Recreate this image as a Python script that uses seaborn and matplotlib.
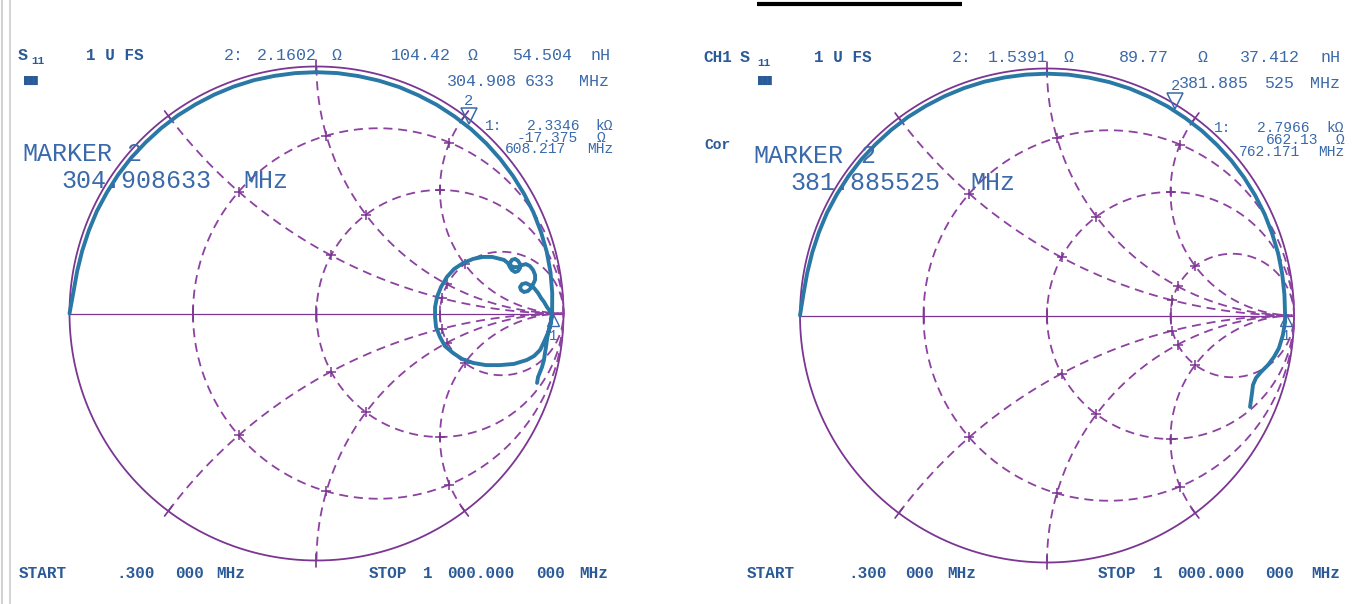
import numpy as np
import pandas as pd
import matplotlib
matplotlib.use("Agg")
import matplotlib.pyplot as plt
from matplotlib.transforms import offset_copy
import seaborn as sns

sns.set_theme(style="white")
plt.rcParams["font.family"] = ["Liberation Mono", "DejaVu Sans Mono", "DejaVu Sans"]

W, H = 1365, 604
PURPLE = "#8d41a0"
PURPLE_DK = "#7b3592"
TRACE = "#2a78a5"
TEXT = "#3a6aaa"
TEXT_DK = "#2b5a98"

Z0 = 50.0

# Smith chart graticule: constant-resistance circles and constant-reactance arcs
R_CIRCLES = [1 / 3, 1.0, 3.0]
X_ARCS = [0.5, 1.0, 2.0]

# Reflection coefficient along the rim: angle (deg) and magnitude
RIM_DEG = [180, 175, 170, 165, 160, 155, 150, 145, 140, 135, 130, 125, 120,
           115, 110, 105, 100, 95, 90, 85, 80, 75, 70, 65, 60, 55, 50, 45,
           40, 35, 30, 25, 20, 15, 10, 5, 0]
LEFT_RIM_MAG = [1.000, 0.988, 0.984, 0.982, 0.981, 0.981, 0.980, 0.980, 0.980,
                0.979, 0.979, 0.979, 0.978, 0.978, 0.978, 0.978, 0.977, 0.977,
                0.977, 0.977, 0.976, 0.976, 0.976, 0.975, 0.975, 0.974, 0.974,
                0.973, 0.972, 0.971, 0.970, 0.969, 0.967, 0.965, 0.962, 0.958,
                0.954]
RIGHT_RIM_MAG = [1.000, 0.990, 0.986, 0.984, 0.983, 0.983, 0.982, 0.982, 0.982,
                 0.981, 0.981, 0.981, 0.980, 0.980, 0.980, 0.980, 0.979, 0.979,
                 0.979, 0.979, 0.978, 0.978, 0.978, 0.977, 0.977, 0.976, 0.976,
                 0.975, 0.975, 0.974, 0.973, 0.972, 0.970, 0.969, 0.967, 0.965,
                 0.964]

# Left display: resonance loop, its two curls, and the tail into the capacitive half
LEFT_LOOP_RE = [0.949, 0.937, 0.921, 0.905, 0.881, 0.852, 0.800, 0.743, 0.686,
                0.634, 0.589, 0.553, 0.520, 0.500, 0.484, 0.480, 0.480, 0.488,
                0.504, 0.528, 0.557, 0.593, 0.634, 0.674, 0.711, 0.743,
                0.759, 0.775, 0.783, 0.791, 0.804, 0.816, 0.824, 0.824, 0.816,
                0.804, 0.791, 0.783, 0.787, 0.800, 0.816, 0.832, 0.848, 0.864,
                0.877, 0.885, 0.885, 0.877,
                0.868, 0.856, 0.840, 0.828, 0.824, 0.832, 0.848, 0.864, 0.881,
                0.897, 0.909, 0.921, 0.933, 0.945, 0.953,
                0.949, 0.945, 0.937, 0.933, 0.929, 0.925, 0.921, 0.913, 0.905,
                0.897, 0.893]
LEFT_LOOP_IM = [-0.038, -0.079, -0.115, -0.148, -0.172, -0.188, -0.204, -0.209,
                -0.209, -0.200, -0.184, -0.160, -0.132, -0.095, -0.055, -0.014,
                0.026, 0.067, 0.107, 0.148, 0.180, 0.204, 0.221, 0.229, 0.229,
                0.221,
                0.217, 0.204, 0.188, 0.176, 0.168, 0.172, 0.184, 0.200, 0.213,
                0.221, 0.217, 0.204, 0.192, 0.188, 0.188, 0.196, 0.200, 0.192,
                0.176, 0.156, 0.136, 0.119,
                0.103, 0.091, 0.087, 0.095, 0.107, 0.119, 0.123, 0.115, 0.103,
                0.083, 0.063, 0.047, 0.026, 0.010, -0.006,
                -0.030, -0.055, -0.083, -0.107, -0.136, -0.160, -0.188, -0.217,
                -0.237, -0.257, -0.281]

# Right display (corrected): tail below the open-circuit point
RIGHT_TAIL_RE = [0.964, 0.955, 0.939, 0.919, 0.895, 0.866, 0.846, 0.834, 0.830,
                 0.826, 0.822]
RIGHT_TAIL_IM = [-0.026, -0.079, -0.132, -0.168, -0.200, -0.229, -0.253, -0.281,
                 -0.314, -0.342, -0.370]

# Marker readouts (R, X in ohms)
LEFT_M1 = (2334.6, -17.375)
LEFT_M2 = (2.1602, 104.42)
RIGHT_M1 = (2796.6, 662.13)
RIGHT_M2 = (1.5391, 89.77)


def gamma(z):
    return (z - 1) / (z + 1)


fig = plt.figure(figsize=(W / 100, H / 100), dpi=100)
fig.patch.set_facecolor("white")


def smith_axes(cx, cy, radius):
    pad = 1.06
    half = radius * pad
    ax = fig.add_axes([(cx - half) / W, (H - cy - half) / H, 2 * half / W, 2 * half / H])
    ax.set_xlim(-pad, pad)
    ax.set_ylim(-pad, pad)
    ax.axis("off")
    return ax


def draw_grid(ax):
    t = np.linspace(0, 2 * np.pi, 721)
    ax.plot(np.cos(t), np.sin(t), color=PURPLE_DK, lw=1.3, zorder=2)
    ax.plot([-1, 1], [0, 0], color=PURPLE_DK, lw=0.9, zorder=2)
    dash = (0, (5.0, 3.2))
    tc = np.linspace(np.pi, 3 * np.pi, 721)
    for r in R_CIRCLES:
        c, rad = r / (1 + r), 1 / (1 + r)
        ax.plot(c + rad * np.cos(tc), rad * np.sin(tc), color=PURPLE, lw=1.3,
                ls=dash, zorder=2)
        g = (r - 1) / (r + 1)
        ax.plot([g, g], [-0.03, 0.03], color=PURPLE_DK, lw=1.1, zorder=2)
    rr = np.concatenate([[0.0], np.geomspace(1e-3, 300, 900)])
    for x in X_ARCS:
        for s in (1, -1):
            g = gamma(rr + 1j * s * x)
            ax.plot(g.real, g.imag, color=PURPLE, lw=1.3, ls=dash, zorder=2)
            g0 = g[0]
            ax.plot([0.975 * g0.real, 1.025 * g0.real],
                    [0.975 * g0.imag, 1.025 * g0.imag],
                    color=PURPLE_DK, lw=1.2, zorder=2)
    cross = np.array([gamma(r + 1j * s * x) for r in R_CIRCLES
                      for x in X_ARCS for s in (1, -1)])
    ax.plot(cross.real, cross.imag, ls="none", marker="+", ms=7, mew=1.1,
            color=PURPLE_DK, zorder=2)


def draw_trace(ax, re, im):
    df = pd.DataFrame({"re": re, "im": im})
    sns.lineplot(data=df, x="re", y="im", sort=False, estimator=None, ax=ax,
                 color=TRACE, lw=2.8, zorder=5, solid_joinstyle="round",
                 solid_capstyle="round")
    ax.set_xlim(-1.06, 1.06)
    ax.set_ylim(-1.06, 1.06)
    ax.axis("off")


def draw_markers(ax, m1, m2):
    g1 = gamma(complex(*m1) / Z0)
    g2 = gamma(complex(*m2) / Z0)
    up = offset_copy(ax.transData, fig=fig, x=0, y=8, units="dots")
    ax.plot([g2.real], [g2.imag], marker="v", ms=11, mfc="none", mec=TEXT,
            mew=1.1, transform=up, zorder=6)
    lab2 = offset_copy(ax.transData, fig=fig, x=0, y=23, units="dots")
    ax.text(g2.real, g2.imag, "2", transform=lab2, ha="center", va="center",
            fontsize=11, color=TEXT, zorder=6)
    dn = offset_copy(ax.transData, fig=fig, x=0, y=-6, units="dots")
    ax.plot([g1.real], [g1.imag], marker="^", ms=8, mfc="none", mec=TEXT,
            mew=1.0, transform=dn, zorder=6)
    lab1 = offset_copy(ax.transData, fig=fig, x=0, y=-22, units="dots")
    ax.text(g1.real, g1.imag, "1", transform=lab1, ha="center", va="center",
            fontsize=10, color=TEXT, zorder=6)


def polar_points(deg, mag):
    a = np.radians(np.asarray(deg, dtype=float))
    m = np.asarray(mag, dtype=float)
    return m * np.cos(a), m * np.sin(a)


# Left chart
axL = smith_axes(316.5, 313.5, 247)
draw_grid(axL)
lx, ly = polar_points(RIM_DEG, LEFT_RIM_MAG)
draw_trace(axL, np.concatenate([lx, LEFT_LOOP_RE]), np.concatenate([ly, LEFT_LOOP_IM]))
draw_markers(axL, LEFT_M1, LEFT_M2)

# Right chart
axR = smith_axes(1047, 315.5, 247)
draw_grid(axR)
rx, ry = polar_points(RIM_DEG, RIGHT_RIM_MAG)
draw_trace(axR, np.concatenate([rx, RIGHT_TAIL_RE]), np.concatenate([ry, RIGHT_TAIL_IM]))
draw_markers(axR, RIGHT_M1, RIGHT_M2)

# Annotation layer in pixel coordinates
bg = fig.add_axes([0, 0, 1, 1], zorder=10)
bg.set_xlim(0, W)
bg.set_ylim(H, 0)
bg.axis("off")
bg.patch.set_alpha(0)

bg.plot([1.5, 1.5], [0, H], color="#d2d2d2", lw=1.5)
bg.plot([9.5, 9.5], [0, H], color="#d6d6d6", lw=1.5)
bg.plot([757, 962], [3.5, 3.5], color="black", lw=3.0, solid_capstyle="butt")

SMALL = 12
READ = 10.5
BIG = 18
FOOT = 11.5


def txt(x, y, s, size=SMALL, weight="normal", color=TEXT, ha="left"):
    bg.text(x, y, s, fontsize=size, fontweight=weight, color=color,
            ha=ha, va="center")


# Left header
txt(18, 55, "S", 12, "bold", TEXT_DK)
txt(31, 61, "11", 8, "bold", TEXT_DK)
txt(86, 55, "1 U FS", 11.5, "bold", TEXT_DK)
txt(24, 80, "███", 5.5, "normal", TEXT_DK)
for x, s in [(224, "2:"), (257, "2.1602"), (332, "Ω"), (391, "104.42"),
             (468, "Ω"), (512, "54.504"), (591, "nH")]:
    txt(x, 55, s)
for x, s in [(447, "304.908"), (525, "633"), (579, "MHz")]:
    txt(x, 82, s)
txt(485, 126, "1:", READ)
for x, y, s in [(580, 126, "2.3346"), (613, 126, "kΩ"),
                (578, 137.5, "-17.375"), (605, 137.5, "Ω"),
                (566, 149, "608.217"), (613, 149, "MHz")]:
    txt(x, y, s, READ, ha="right")
txt(22, 154, "MARKER", BIG)
txt(126, 154, "2", BIG)
txt(61, 181, "304.908633", BIG)
txt(243, 181, "MHz", BIG)

# Right header
txt(703, 57, "CH1", 11.5, "bold", TEXT_DK)
txt(740, 57, "S", 12, "bold", TEXT_DK)
txt(757, 63, "11", 8, "bold", TEXT_DK)
txt(814, 57, "1 U FS", 11.5, "bold", TEXT_DK)
txt(758, 80, "███", 5.5, "normal", TEXT_DK)
txt(704, 145, "Cor", 10.5, "bold", TEXT_DK)
for x, s in [(952, "2:"), (988, "1.5391"), (1063, "Ω"), (1119, "89.77"),
             (1197, "Ω"), (1240, "37.412"), (1321, "nH")]:
    txt(x, 57, s)
for x, s in [(1179, "381.885"), (1264, "525"), (1310, "MHz")]:
    txt(x, 83, s)
txt(1214, 128, "1:", READ)
for x, y, s in [(1309, 128, "2.7966"), (1344, 128, "kΩ"),
                (1318, 140, "662.13"), (1344, 140, "Ω"),
                (1300, 152, "762.171"), (1344, 152, "MHz")]:
    txt(x, y, s, READ, ha="right")
txt(753, 156, "MARKER", BIG)
txt(860, 156, "2", BIG)
txt(790, 183, "381.885525", BIG)
txt(970, 183, "MHz", BIG)

# Footers
for x, s in [(19, "START"), (116, ".300"), (175, "000"), (216, "MHz"),
             (369, "STOP"), (423, "1"), (447, "000.000"), (536, "000"), (579, "MHz")]:
    txt(x, 573, s, FOOT, "bold", TEXT_DK)
for x, s in [(747, "START"), (848, ".300"), (905, "000"), (947, "MHz"),
             (1098, "STOP"), (1153, "1"), (1177, "000.000"), (1265, "000"), (1311, "MHz")]:
    txt(x, 574, s, FOOT, "bold", TEXT_DK)

fig.savefig("out.png", dpi=100, facecolor="white")
